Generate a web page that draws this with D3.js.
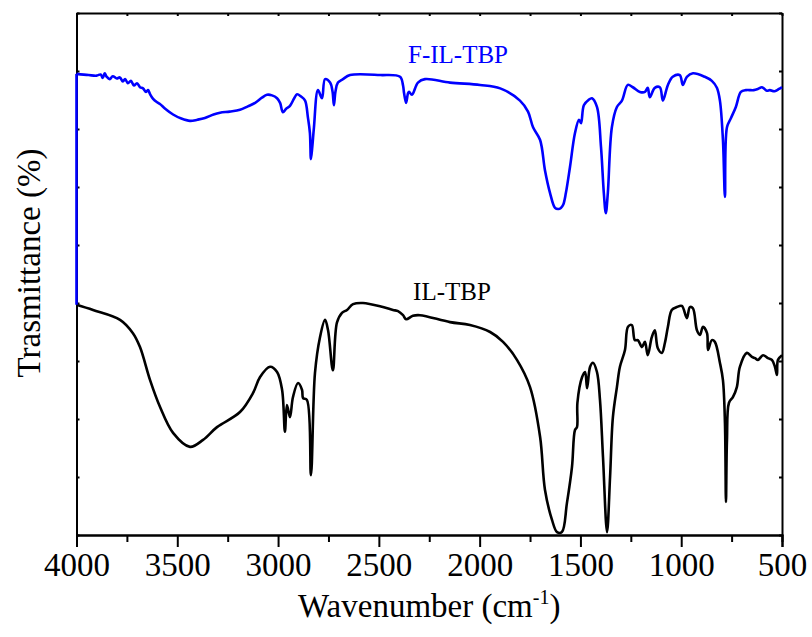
<!DOCTYPE html>
<html lang="en">
<head>
<meta charset="UTF-8">
<title>FTIR</title>
<style>
  body { margin: 0; background: #fff; }
  svg { display: block; }
  .axis path, .axis line { fill: none; stroke: #000; stroke-width: 2; }
  .axis text { font-family: "Liberation Serif", "Times New Roman", serif; font-size: 33px; fill: #000; }
  .lbl { font-family: "Liberation Serif", "Times New Roman", serif; }
</style>
</head>
<body>
<svg id="chart"></svg>
<script src="https://cdn.jsdelivr.net/npm/d3@7/dist/d3.min.js"></script>
<script>
// wavenumber (cm-1) / transmittance (arbitrary units)
var filWave = [4000, 4000, 3940, 3900, 3880, 3870, 3860, 3850, 3835, 3820, 3800, 3785, 3770, 3759, 3745, 3730, 3715, 3700, 3685, 3670, 3655, 3645, 3635, 3620, 3600, 3586, 3560, 3521, 3480, 3437, 3400, 3363, 3320, 3288, 3240, 3189, 3150, 3114, 3080, 3055, 3030, 3005, 2990, 2976, 2960, 2941, 2920, 2906, 2886, 2866, 2852, 2842, 2837, 2830, 2822, 2802, 2782, 2767, 2742, 2730, 2723, 2715, 2703, 2678, 2643, 2494, 2395, 2380, 2375, 2365, 2355, 2350, 2336, 2306, 2271, 2147, 1998, 1898, 1800, 1760, 1735, 1700, 1676, 1651, 1626, 1610, 1597, 1585, 1572, 1552, 1527, 1507, 1497, 1483, 1460, 1443, 1418, 1398, 1384, 1374, 1364, 1344, 1319, 1294, 1265, 1240, 1205, 1180, 1166, 1156, 1131, 1106, 1091, 1066, 1042, 1007, 992, 972, 942, 883, 848, 823, 808, 793, 783, 773, 753, 729, 704, 679, 654, 640, 620, 600, 590, 575, 560, 540, 530, 515, 500];
var filT = [39.7, 79.5, 79.3, 79.2, 79.4, 78.8, 79.6, 79.0, 78.6, 79.1, 78.7, 78.9, 78.2, 78.6, 77.9, 78.3, 77.5, 77.9, 77.2, 77.0, 76.4, 76.7, 76.0, 75.2, 74.6, 74.3, 73.5, 72.5, 71.8, 71.4, 71.6, 71.9, 72.5, 72.8, 73.0, 73.3, 73.9, 74.5, 75.4, 75.9, 75.8, 75.3, 74.5, 72.9, 73.5, 74.0, 75.3, 76.0, 75.6, 74.9, 72.0, 69.3, 64.8, 67.0, 70.3, 76.7, 75.3, 78.6, 78.0, 76.5, 74.1, 76.5, 78.0, 78.6, 79.3, 79.3, 79.0, 77.5, 76.2, 74.5, 76.2, 76.4, 75.9, 78.0, 78.6, 78.0, 77.6, 77.0, 74.9, 73.0, 70.3, 68.1, 62.9, 59.0, 56.4, 56.2, 56.4, 57.0, 59.0, 63.4, 69.3, 71.6, 71.0, 74.1, 75.0, 75.3, 73.8, 66.9, 59.0, 55.5, 59.0, 70.3, 73.8, 74.9, 77.6, 77.2, 76.4, 76.4, 77.1, 75.5, 77.1, 77.2, 74.9, 77.6, 79.0, 79.3, 77.6, 79.0, 79.6, 79.0, 78.3, 77.1, 74.9, 68.1, 58.3, 70.3, 71.9, 73.8, 76.4, 76.7, 76.7, 76.7, 76.9, 77.2, 77.0, 76.6, 76.7, 76.5, 76.6, 76.9, 77.2];

var ilWave = [4000, 3918, 3784, 3720, 3685, 3635, 3586, 3521, 3437, 3372, 3303, 3189, 3124, 3090, 3040, 3005, 2980, 2966, 2956, 2941, 2926, 2901, 2881, 2876, 2857, 2837, 2817, 2792, 2767, 2752, 2728, 2708, 2683, 2658, 2628, 2579, 2480, 2430, 2405, 2380, 2365, 2331, 2296, 2147, 2048, 1948, 1884, 1815, 1750, 1700, 1676, 1641, 1616, 1592, 1567, 1542, 1527, 1517, 1515, 1492, 1477, 1467, 1452, 1438, 1418, 1403, 1388, 1368, 1353, 1339, 1319, 1304, 1279, 1264, 1245, 1230, 1215, 1195, 1180, 1166, 1146, 1131, 1116, 1096, 1081, 1066, 1047, 1022, 997, 972, 957, 942, 922, 907, 892, 872, 867, 848, 833, 808, 793, 783, 778, 773, 763, 743, 724, 709, 674, 649, 634, 619, 594, 570, 550, 535, 525, 520, 500];
var ilT = [39.7, 38.8, 37.1, 34.8, 32.4, 26.7, 22.1, 17.6, 15.2, 16.4, 18.6, 21.2, 24.5, 27.2, 29.0, 28.1, 25.0, 17.8, 22.4, 20.3, 23.8, 26.2, 25.0, 23.6, 23.3, 10.3, 27.9, 34.1, 37.1, 35.3, 28.4, 36.6, 38.3, 38.8, 39.8, 40.0, 39.3, 38.8, 38.6, 37.9, 37.2, 37.8, 37.9, 36.7, 36.2, 35.0, 33.3, 30.2, 25.5, 16.9, 7.8, 2.6, 0.5, 0.5, 5.5, 11.7, 18.1, 18.6, 22.8, 27.2, 28.1, 25.3, 29.0, 29.7, 28.1, 23.3, 13.4, 0.5, 10.0, 20.3, 25.5, 29.0, 31.9, 35.9, 36.2, 33.6, 33.6, 32.4, 33.3, 31.0, 34.1, 35.3, 32.2, 31.4, 33.1, 35.9, 38.8, 39.3, 39.5, 37.4, 39.3, 39.1, 35.3, 34.5, 35.9, 34.8, 31.9, 33.6, 33.3, 29.7, 26.7, 19.3, 5.7, 16.4, 22.8, 23.8, 25.5, 29.0, 31.4, 30.7, 30.5, 30.2, 31.0, 30.5, 30.2, 29.0, 27.6, 30.2, 31.0];

var majorTicks = [4000, 3500, 3000, 2500, 2000, 1500, 1000, 500];
var minorTicks = [3750, 3250, 2750, 2250, 1750, 1250, 750];
var yTicks = [0, 10, 20, 30, 40, 50, 60, 70, 80, 90];

var w = 812, h = 637;
var svg = d3.select("#chart").attr("width", w).attr("height", h);
var pad = {left: 76.5, right: 30, top: 13, bottom: 102};

var xScale = d3.scaleLinear().domain([4000, 500]).range([pad.left, w - pad.right]);
var yScale = d3.scaleLinear().domain([0, 90]).range([h - pad.bottom, pad.top]);

// bottom axis: long labelled ticks + short minor ticks
svg.append("g").attr("class", "axis")
  .attr("transform", "translate(0," + yScale(0) + ")")
  .call(d3.axisBottom(xScale).tickValues(minorTicks).tickSize(7).tickFormat(""));
var xAxis = svg.append("g").attr("class", "axis")
  .attr("transform", "translate(0," + yScale(0) + ")")
  .call(d3.axisBottom(xScale).tickValues(majorTicks).tickSize(12).tickPadding(6).tickFormat(d3.format("d")));
xAxis.selectAll("text").attr("font-family", "Liberation Serif").attr("font-size", 33);

// top axis: short inward ticks
svg.append("g").attr("class", "axis")
  .attr("transform", "translate(0," + yScale(90) + ")")
  .call(d3.axisTop(xScale).tickValues(majorTicks.concat(minorTicks)).tickSizeInner(-3).tickSizeOuter(0).tickFormat(""));

// left and right axes, no labels
svg.append("g").attr("class", "axis")
  .attr("transform", "translate(" + xScale(4000) + ",0)")
  .call(d3.axisLeft(yScale).tickValues(yTicks).tickSizeInner(-3).tickSizeOuter(0).tickFormat(""));
svg.append("g").attr("class", "axis")
  .attr("transform", "translate(" + xScale(500) + ",0)")
  .call(d3.axisRight(yScale).tickValues(yTicks).tickSizeInner(-3).tickSizeOuter(0).tickFormat(""));

var line = d3.line()
  .x(function(d) { return xScale(d[0]); })
  .y(function(d) { return yScale(d[1]); })
  .curve(d3.curveCatmullRom.alpha(0.5));
var straight = d3.line()
  .x(function(d) { return xScale(d[0]); })
  .y(function(d) { return yScale(d[1]); });

svg.append("path")
  .datum(d3.zip(ilWave, ilT))
  .attr("d", line)
  .attr("fill", "none")
  .attr("stroke", "#000")
  .attr("stroke-width", 2.6)
  .attr("stroke-linejoin", "round");

// blue trace starts with a vertical jump at 4000 cm-1
var filPts = d3.zip(filWave, filT);
svg.append("path")
  .datum(filPts.slice(0, 2))
  .attr("d", straight)
  .attr("fill", "none")
  .attr("stroke", "#0000ff")
  .attr("stroke-width", 2.6);
svg.append("path")
  .datum(filPts.slice(1))
  .attr("d", line)
  .attr("fill", "none")
  .attr("stroke", "#0000ff")
  .attr("stroke-width", 2.6)
  .attr("stroke-linejoin", "round");

// curve labels
svg.append("text").attr("class", "lbl")
  .attr("x", 458).attr("y", 63)
  .attr("text-anchor", "middle").attr("font-size", 25).attr("fill", "#0000ff")
  .text("F-IL-TBP");
svg.append("text").attr("class", "lbl")
  .attr("x", 452).attr("y", 300)
  .attr("text-anchor", "middle").attr("font-size", 25).attr("fill", "#000")
  .text("IL-TBP");

// axis titles
var xt = svg.append("text").attr("class", "lbl")
  .attr("x", (xScale(4000) + xScale(500)) / 2).attr("y", 617)
  .attr("text-anchor", "middle").attr("font-size", 33).attr("fill", "#000");
xt.append("tspan").text("Wavenumber (cm");
xt.append("tspan").attr("font-size", 20).attr("dy", -13).text("-1");
xt.append("tspan").attr("dy", 13).text(")");

svg.append("text").attr("class", "lbl")
  .attr("transform", "translate(40,263) rotate(-90)")
  .attr("text-anchor", "middle").attr("font-size", 33).attr("fill", "#000")
  .text("Trasmittance (%)");
</script>
</body>
</html>
